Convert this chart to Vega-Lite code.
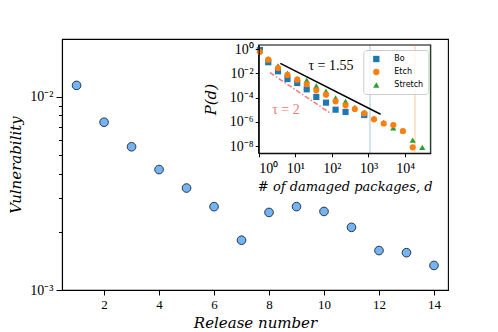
{
  "$schema": "https://vega.github.io/schema/vega-lite/v6.json",
  "width": 386,
  "height": 251,
  "autosize": {"type": "none"},
  "padding": {"left": 62, "top": 39, "right": 50, "bottom": 42},
  "background": "white",
  "config": {
    "view": {"stroke": "black", "strokeWidth": 1.1},
    "axis": {
      "grid": false,
      "labelFont": "Liberation Serif",
      "labelFontSize": 13,
      "labelColor": "black",
      "tickColor": "black",
      "domainColor": "black",
      "domainWidth": 1.1,
      "tickWidth": 1,
      "titleFont": "DejaVu Serif",
      "titleFontStyle": "italic",
      "titleFontWeight": "normal",
      "titleColor": "black"
    },
    "legend": {
      "labelFont": "DejaVu Sans", "labelFontSize": 8, "labelColor": "black",
      "symbolSize": 40, "symbolStrokeWidth": 0, "symbolOffset": 4,
      "labelOffset": 14, "rowPadding": 5, "padding": 5,
      "strokeColor": "#cccccc", "fillColor": "rgba(255,255,255,0.8)", "cornerRadius": 3
    }
  },
  "resolve": {
    "scale": {"x": "independent", "y": "independent"},
    "axis": {"x": "independent", "y": "independent"}
  },
  "layer": [
    {
      "data": {
        "values": [
          {"release": 1, "vuln": 0.01145},
          {"release": 2, "vuln": 0.00738},
          {"release": 3, "vuln": 0.00551},
          {"release": 4, "vuln": 0.0042},
          {"release": 5, "vuln": 0.00337},
          {"release": 6, "vuln": 0.0027},
          {"release": 7, "vuln": 0.00181},
          {"release": 8, "vuln": 0.00252},
          {"release": 9, "vuln": 0.0027},
          {"release": 10, "vuln": 0.00255},
          {"release": 11, "vuln": 0.00211},
          {"release": 12, "vuln": 0.0016},
          {"release": 13, "vuln": 0.00156},
          {"release": 14, "vuln": 0.00134}
        ]
      },
      "mark": {"type": "circle", "fill": "#74b4f4", "stroke": "#1c2430", "strokeWidth": 0.9, "size": 75, "opacity": 1},
      "encoding": {
        "x": {
          "field": "release", "type": "quantitative",
          "scale": {"domain": [0.47, 14.51], "nice": false, "zero": false},
          "axis": {"values": [2, 4, 6, 8, 10, 12, 14], "tickSize": 5, "labelPadding": 3, "titleFontSize": 15, "titlePadding": 4, "orient": "bottom"},
          "title": "Release number"
        },
        "y": {
          "field": "vuln", "type": "quantitative",
          "scale": {"type": "log", "domain": [0.001, 0.0199], "nice": false},
          "axis": {
            "orient": "left",
            "values": [0.001, 0.002, 0.003, 0.004, 0.005, 0.006, 0.007, 0.008, 0.009, 0.01],
            "labelExpr": "datum.value == 0.01 ? '10⁻²' : datum.value == 0.001 ? '10⁻³' : ''",
            "tickSize": {"condition": {"test": "datum.value == 0.01 || datum.value == 0.001", "value": 6}, "value": 3.5},
            "labelPadding": 3,
            "labelFontSize": 14,
            "titleFontSize": 15,
            "titlePadding": 6
          },
          "title": "Vulnerability"
        }
      }
    },
    {
      "layer": [
        {
          "data": {"values": [{}]},
          "mark": {"type": "rect", "fill": "white", "stroke": "black", "strokeWidth": 1.1},
          "encoding": {
            "x": {
              "datum": 1, "type": "quantitative",
              "scale": {"type": "log", "domain": [1, 50100], "range": [196.7, 368.7], "nice": false},
              "axis": {
                "orient": "bottom", "offset": -136.7, "zindex": 1,
                "values": [1, 10, 100, 1000, 10000],
                "labelExpr": "datum.value < 5 ? '10⁰' : datum.value < 50 ? '10¹' : datum.value < 500 ? '10²' : datum.value < 5000 ? '10³' : '10⁴'",
                "tickSize": 3.5, "labelPadding": 5, "labelFontSize": 14, "titleFontSize": 13, "titlePadding": 5
              },
              "title": "# of damaged packages, d"
            },
            "x2": {"datum": 50100},
            "y": {
              "datum": 2.54e-9, "type": "quantitative",
              "scale": {"type": "log", "domain": [2.54e-9, 2.26], "range": [114.3, 6], "nice": false},
              "axis": {
                "orient": "left", "offset": -196.7, "zindex": 1,
                "values": [1, 0.01, 0.0001, 0.000001, 0.00000001],
                "labelExpr": "datum.value > 0.5 ? '10⁰' : datum.value > 0.005 ? '10⁻²' : datum.value > 0.00005 ? '10⁻⁴' : datum.value > 0.0000005 ? '10⁻⁶' : '10⁻⁸'",
                "tickSize": 3.5, "labelPadding": 2, "labelFontSize": 14, "titleFontSize": 15, "titlePadding": 11
              },
              "title": "P(d)"
            },
            "y2": {"datum": 2.26}
          }
        },
        {
          "data": {"values": [{"dmax": 1100}]},
          "mark": {"type": "rule", "strokeWidth": 1.2, "opacity": 0.35, "color": "#1f77b4"},
          "encoding": {
            "x": {"field": "dmax", "type": "quantitative", "title": "# of damaged packages, d"},
            "y": {"datum": 2.54e-9, "type": "quantitative", "title": "P(d)"},
            "y2": {"datum": 2.26}
          }
        },
        {
          "data": {"values": [{"dmax": 18600}]},
          "mark": {"type": "rule", "strokeWidth": 1.2, "opacity": 0.35, "color": "#ff7f0e"},
          "encoding": {
            "x": {"field": "dmax", "type": "quantitative", "title": "# of damaged packages, d"},
            "y": {"datum": 2.54e-9, "type": "quantitative", "title": "P(d)"},
            "y2": {"datum": 2.26}
          }
        },
        {
          "data": {"values": [{"dmax": 47900}]},
          "mark": {"type": "rule", "strokeWidth": 1.2, "opacity": 0.35, "color": "#2ca02c"},
          "encoding": {
            "x": {"field": "dmax", "type": "quantitative", "title": "# of damaged packages, d"},
            "y": {"datum": 2.54e-9, "type": "quantitative", "title": "P(d)"},
            "y2": {"datum": 2.26}
          }
        },
        {
          "data": {"values": [{"d": 3.9, "p": 0.069}, {"d": 2140, "p": 0.0000043}]},
          "mark": {"type": "line", "color": "black", "strokeWidth": 1.5},
          "encoding": {
            "x": {"field": "d", "type": "quantitative", "title": "# of damaged packages, d"},
            "y": {"field": "p", "type": "quantitative", "title": "P(d)"}
          }
        },
        {
          "data": {"values": [{"d": 2.04, "p": 0.0117}, {"d": 98, "p": 0.0000045}]},
          "mark": {"type": "line", "color": "#f47a7a", "strokeWidth": 1.5, "strokeDash": [5, 2, 1.5, 2]},
          "encoding": {
            "x": {"field": "d", "type": "quantitative", "title": "# of damaged packages, d"},
            "y": {"field": "p", "type": "quantitative", "title": "P(d)"}
          }
        },
        {
          "data": {"values": [
            {"release": "Bo", "d": 1.08, "p": 0.87},
            {"release": "Bo", "d": 1.83, "p": 0.085},
            {"release": "Bo", "d": 3.37, "p": 0.0151},
            {"release": "Bo", "d": 6.11, "p": 0.00347},
            {"release": "Bo", "d": 11.3, "p": 0.00162},
            {"release": "Bo", "d": 20.5, "p": 0.00049},
            {"release": "Bo", "d": 37.5, "p": 0.000115},
            {"release": "Bo", "d": 69, "p": 0.000039},
            {"release": "Bo", "d": 126, "p": 0.0000102},
            {"release": "Bo", "d": 236, "p": 0.0000066},
            {"release": "Bo", "d": 767, "p": 0.0000037},
            {"release": "Stretch", "d": 1.08, "p": 0.79},
            {"release": "Stretch", "d": 1.83, "p": 0.158},
            {"release": "Stretch", "d": 3.37, "p": 0.0417},
            {"release": "Stretch", "d": 6.11, "p": 0.0105},
            {"release": "Stretch", "d": 11.3, "p": 0.00398},
            {"release": "Stretch", "d": 20.5, "p": 0.00275},
            {"release": "Stretch", "d": 37.5, "p": 0.00093},
            {"release": "Stretch", "d": 69, "p": 0.000339},
            {"release": "Stretch", "d": 126, "p": 0.000095},
            {"release": "Stretch", "d": 236, "p": 0.00005},
            {"release": "Stretch", "d": 423, "p": 0.0000158},
            {"release": "Stretch", "d": 767, "p": 0.0000063},
            {"release": "Stretch", "d": 1413, "p": 0.000002},
            {"release": "Stretch", "d": 2600, "p": 0.00000089},
            {"release": "Stretch", "d": 4764, "p": 0.00000033},
            {"release": "Stretch", "d": 8710, "p": 0.00000019},
            {"release": "Stretch", "d": 16140, "p": 0.0000000316},
            {"release": "Stretch", "d": 29510, "p": 0.0000000079},
            {"release": "Etch", "d": 1.08, "p": 0.63},
            {"release": "Etch", "d": 1.83, "p": 0.138},
            {"release": "Etch", "d": 3.37, "p": 0.0282},
            {"release": "Etch", "d": 6.11, "p": 0.00759},
            {"release": "Etch", "d": 11.3, "p": 0.00309},
            {"release": "Etch", "d": 20.5, "p": 0.00129},
            {"release": "Etch", "d": 37.5, "p": 0.000407},
            {"release": "Etch", "d": 69, "p": 0.000178},
            {"release": "Etch", "d": 126, "p": 0.00005},
            {"release": "Etch", "d": 236, "p": 0.0000234},
            {"release": "Etch", "d": 423, "p": 0.0000117},
            {"release": "Etch", "d": 767, "p": 0.0000051},
            {"release": "Etch", "d": 1413, "p": 0.00000162},
            {"release": "Etch", "d": 2600, "p": 0.00000074},
            {"release": "Etch", "d": 4764, "p": 0.00000055},
            {"release": "Etch", "d": 8710, "p": 0.000000178},
            {"release": "Etch", "d": 16140, "p": 0.0000000079}
          ]},
          "mark": {"type": "point", "filled": true, "size": 38, "opacity": 1},
          "encoding": {
            "x": {"field": "d", "type": "quantitative", "title": "# of damaged packages, d"},
            "y": {"field": "p", "type": "quantitative", "title": "P(d)"},
            "color": {
              "field": "release", "type": "nominal",
              "scale": {"domain": ["Bo", "Etch", "Stretch"], "range": ["#1f77b4", "#ff7f0e", "#2ca02c"]},
              "legend": {"title": null, "orient": "none", "legendX": 301.3, "legendY": 11}
            },
            "shape": {
              "field": "release", "type": "nominal",
              "scale": {"domain": ["Bo", "Etch", "Stretch"], "range": ["square", "circle", "triangle-up"]},
              "legend": {"title": null, "orient": "none", "legendX": 301.3, "legendY": 11}
            }
          }
        },
        {
          "data": {"values": [{"label": "τ = 1.55", "d": 94, "p": 0.042}]},
          "mark": {"type": "text", "font": "Liberation Serif", "fontSize": 14, "color": "black", "align": "center", "baseline": "middle"},
          "encoding": {
            "x": {"field": "d", "type": "quantitative", "title": "# of damaged packages, d"},
            "y": {"field": "p", "type": "quantitative", "title": "P(d)"},
            "text": {"field": "label"}
          }
        },
        {
          "data": {"values": [{"label": "τ = 2", "d": 5.57, "p": 0.0000096}]},
          "mark": {"type": "text", "font": "Liberation Serif", "fontSize": 14, "color": "#f47a7a", "align": "center", "baseline": "middle"},
          "encoding": {
            "x": {"field": "d", "type": "quantitative", "title": "# of damaged packages, d"},
            "y": {"field": "p", "type": "quantitative", "title": "P(d)"},
            "text": {"field": "label"}
          }
        }
      ]
    }
  ]
}
